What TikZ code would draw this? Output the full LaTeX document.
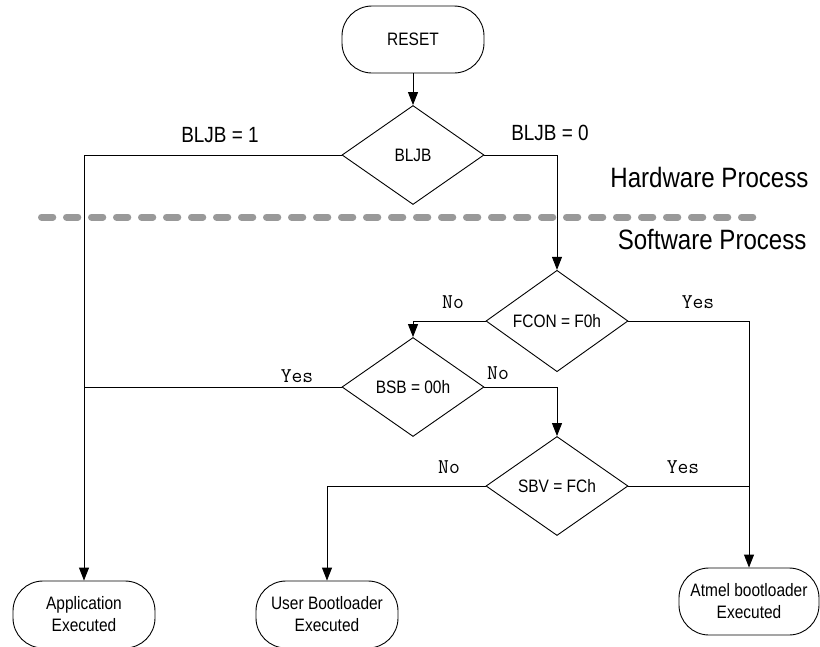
\documentclass[tikz,border=0pt]{standalone}
\usepackage{fontspec}
\setmainfont{Liberation Sans}[FakeStretch=0.86]
\usetikzlibrary{shapes.geometric,arrows.meta}
\tikzset{
 term/.style={draw, line width=0.9pt, rounded corners=30pt, minimum width=142pt, minimum height=67pt, align=center, inner sep=0pt, font=\fontsize{18}{22}\selectfont},
 decision/.style={draw, diamond, line width=0.9pt, minimum width=142pt, minimum height=99pt, inner sep=0pt, font=\fontsize{18}{20}\selectfont},
 flow/.style={line width=0.9pt, -{Triangle[length=13pt,width=10pt]}},
 plain/.style={line width=0.9pt},
 answer/.style={font=\ttfamily\fontsize{21}{22}\selectfont},
 branch/.style={font=\fontsize{22}{24}\selectfont},
 zone/.style={font=\fontsize{28}{30}\selectfont, anchor=east},
 sep/.style={line width=7pt, black!40, dash pattern=on 11.3pt off 13.7pt, line cap=round}
}
\begin{document}
\begin{tikzpicture}[x=1pt,y=-1pt]
\useasboundingbox (0,0) rectangle (820,646);
%\draw[step=50,gray,very thin] (0,0) grid (820,646); %background grid
\draw[sep] (41.5,217) -- (753,217);
\node[zone] (hw) at (812,177) {Hardware Process};
\node[zone] (sw) at (810,240) {Software Process};
\node[term] (reset) at (413,39.5) {RESET};
\node[decision] (bljb) at (413,155) {BLJB};
\node[decision] (fcon) at (557,321) {FCON = F0h};
\node[decision] (bsb) at (413,387) {BSB = 00h};
\node[decision] (sbv) at (557,486) {SBV = FCh};
\node[term] (app) at (84,614.5) {Application\\Executed};
\node[term] (user) at (327,614.5) {User Bootloader\\Executed};
\node[term, minimum width=140pt] (atmel) at (749,601.5) {Atmel bootloader\\Executed};
\node[branch] (bone) at (220,135) {BLJB = 1};
\node[branch] (bzero) at (550,133) {BLJB = 0};
\node[answer] (fno) at (453,302) {No};
\node[answer] (fyes) at (698,302) {Yes};
\node[answer] (byes) at (297,376) {Yes};
\node[answer] (bno) at (498,373) {No};
\node[answer] (sno) at (449,467) {No};
\node[answer] (syes) at (683,467) {Yes};
\draw[flow] (reset) -- (bljb);
\draw[flow] (bljb.west) -| (app);
\draw[flow] (bljb.east) -| (fcon);
\draw[flow] (fcon.west) -| (bsb);
\draw[flow] (fcon.east) -| (atmel);
\draw[plain] (bsb.west) -- (bsb.west -| app);
\draw[flow] (bsb.east) -| (sbv);
\draw[flow] (sbv.west) -| (user);
\draw[plain] (sbv.east) -- (sbv.east -| atmel);
\end{tikzpicture}
\end{document}
